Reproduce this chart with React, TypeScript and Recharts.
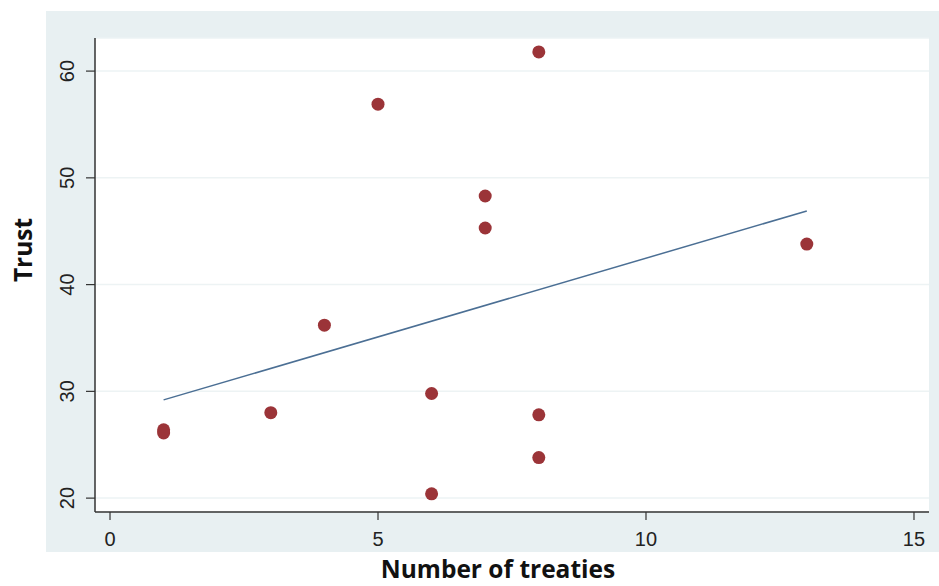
import { CartesianGrid, Scatter, ScatterChart, XAxis, YAxis } from "recharts";

// treaties count per country
const treaties = [1, 1, 3, 4, 5, 6, 6, 7, 7, 8, 8, 8, 13];
// trust score per country
const trust = [26.4, 26.1, 28.0, 36.2, 56.9, 29.8, 20.4, 48.3, 45.3, 61.8, 27.8, 23.8, 43.8];

// fitted line end points
const fitX = [1, 13];
const fitY = [29.2, 46.9];

const xTicks = [0, 5, 10, 15];
const yTicks = [20, 30, 40, 50, 60];

const points = treaties.map((x, i) => ({ x, y: trust[i] }));
const fitLine = fitX.map((x, i) => ({ x, y: fitY[i] }));

const panelColor = "#e8f0f2";
const dotColor = "#9b3438";
const lineColor = "#4b6f94";
const axisColor = "#333333";
const tickFont = "'Liberation Sans', Arial, sans-serif";
const titleFont = "'Open Sans', sans-serif";

function YTick(props: any) {
  const { y, payload } = props;
  const x = 67;
  return (
    <text
      x={x}
      y={y}
      transform={`rotate(-90 ${x} ${y})`}
      textAnchor="middle"
      dominantBaseline="central"
      fontSize={20}
      fontFamily={tickFont}
      fill="#222"
    >
      {payload.value}
    </text>
  );
}

function XTick(props: any) {
  const { x, payload } = props;
  return (
    <text x={x} y={546} textAnchor="middle" fontSize={20} fontFamily={tickFont} fill="#222">
      {payload.value}
    </text>
  );
}

function Dot(props: any) {
  const { cx, cy } = props;
  return <circle cx={cx} cy={cy} r={6.5} fill={dotColor} />;
}

export default function App() {
  return (
    <div style={{ position: "absolute", left: 0, top: 0, width: 939, height: 586, background: "#fff" }}>
      <div
        style={{ position: "absolute", left: 46, top: 11, width: 893, height: 541, background: panelColor }}
      />
      <div style={{ position: "absolute", left: 0, top: 0 }}>
        <ScatterChart width={939} height={586} margin={{ top: 38, right: 10, bottom: 34, left: 46 }}>
          <CartesianGrid vertical={false} fill="#ffffff" stroke="#edf3f4" strokeWidth={1.5} />
          <XAxis
            type="number"
            dataKey="x"
            domain={[-0.28, 15.28]}
            ticks={xTicks}
            allowDataOverflow
            height={40}
            tickSize={8}
            axisLine={{ stroke: axisColor, strokeWidth: 1.5 }}
            tickLine={{ stroke: axisColor, strokeWidth: 1.2 }}
            tick={<XTick />}
            label={{
              content: () => (
                <text
                  x={498}
                  y={578}
                  textAnchor="middle"
                  fontSize={24.5}
                  fontWeight="bold"
                  fontFamily={titleFont}
                  fill="#111"
                >
                  Number of treaties
                </text>
              ),
            }}
          />
          <YAxis
            type="number"
            dataKey="y"
            domain={[18.7, 63.1]}
            ticks={yTicks}
            allowDataOverflow
            width={49}
            tickSize={9}
            axisLine={{ stroke: axisColor, strokeWidth: 1.5 }}
            tickLine={{ stroke: axisColor, strokeWidth: 1.2 }}
            tick={<YTick />}
            label={{
              content: () => (
                <text
                  x={22}
                  y={250}
                  transform="rotate(-90 22 250)"
                  textAnchor="middle"
                  dominantBaseline="central"
                  fontSize={24.5}
                  fontWeight="bold"
                  fontFamily={titleFont}
                  fill="#111"
                >
                  Trust
                </text>
              ),
            }}
          />
          <Scatter
            data={fitLine}
            line={{ stroke: lineColor, strokeWidth: 1.5 }}
            shape={() => <g />}
            isAnimationActive={false}
          />
          <Scatter data={points} shape={<Dot />} isAnimationActive={false} />
        </ScatterChart>
      </div>
    </div>
  );
}
